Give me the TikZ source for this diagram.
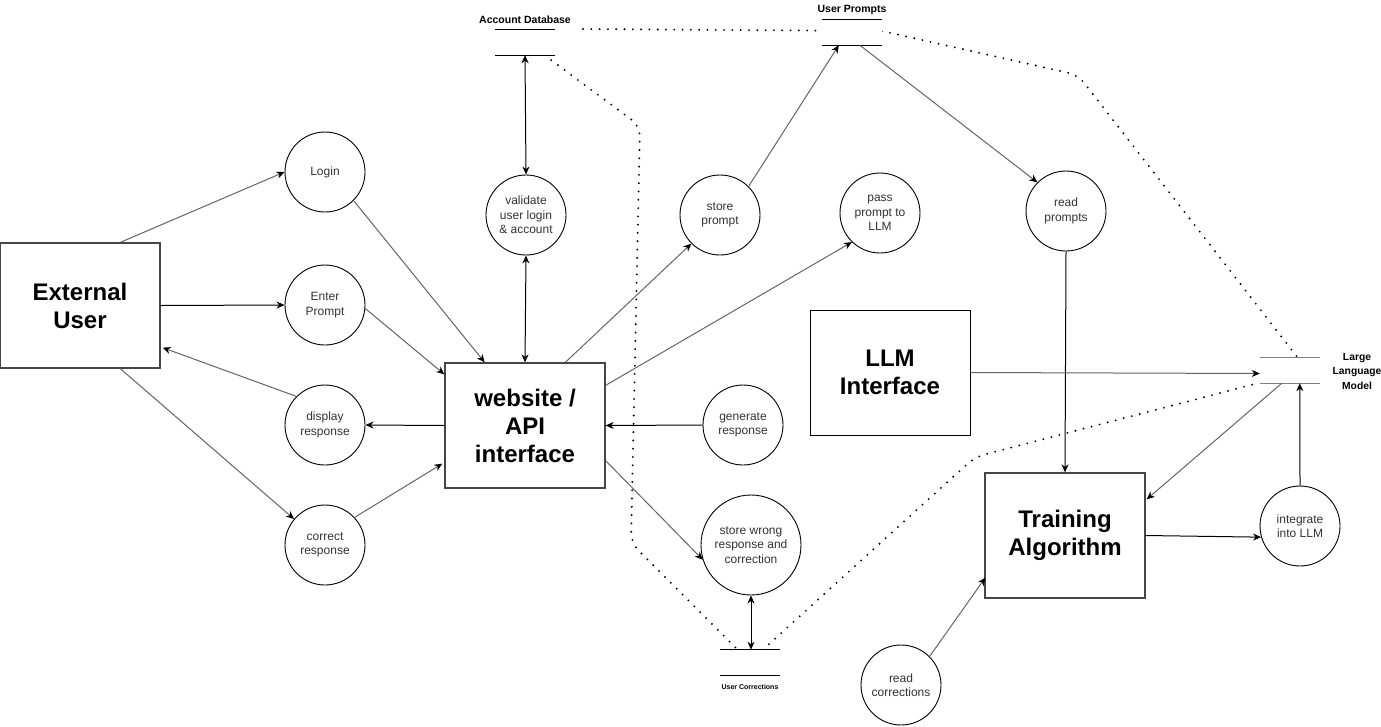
\documentclass[tikz,border=0pt]{standalone}
\usepackage{fontspec}
\setmainfont{Liberation Sans}
\usetikzlibrary{arrows.meta,calc,backgrounds}
\definecolor{lineg}{RGB}{100,100,100}
\definecolor{boxg}{RGB}{70,70,70}
\definecolor{txtg}{RGB}{51,51,51}
\definecolor{llmg}{RGB}{128,128,128}
\begin{document}
\begin{tikzpicture}[x=1pt,y=-1pt,
 proc/.style={circle,draw=black,line width=0.9pt,fill=white,minimum size=80pt,inner sep=0pt,align=center,font=\fontsize{12}{14.5}\selectfont,text=txtg},
 ent/.style={rectangle,draw=boxg,line width=1.3pt,fill=white,minimum width=160pt,minimum height=125pt,inner sep=0pt,align=center,font=\fontsize{24}{28}\selectfont\bfseries},
 storebox/.style={rectangle,draw=none,fill=white,minimum width=60pt,minimum height=25pt,inner sep=0pt},
 storeline/.style={line width=1.2pt},
 slabel/.style={inner sep=0pt,align=center,font=\fontsize{10.5}{13}\selectfont\bfseries},
 tipk/.tip={Stealth[length=8pt,width=7pt,inset=2.5pt,color=black]},
 flowg/.style={line width=1pt,draw=lineg,-tipk},
 flowk/.style={line width=1pt,draw=black,-tipk},
 flowkk/.style={line width=1pt,draw=black,tipk-tipk},
 dots/.style={line width=2.1pt,dash pattern=on 0pt off 8.3pt,line cap=round,rounded corners=10pt}
]
\useasboundingbox (0,0) rectangle (1381,726);

% entities
\node[ent] (eu) at (80,305.5) {External\\User};
\node[ent] (web) at (525,425.5) {website /\\API\\interface};
\node[ent,draw=black,line width=1pt] (llmi) at (890,372.5) {LLM\\Interface};
\node[ent] (train) at (1065,535.5) {Training\\Algorithm};

% processes
\node[proc] (login) at (325,172) {Login};
\node[proc] (enter) at (325,305) {Enter\\Prompt};
\node[proc] (display) at (325,425) {display\\response};
\node[proc] (correct) at (325,545) {correct\\response};
\node[proc] (validate) at (526,215) {validate\\user login\\\& account};
\node[proc] (sprompt) at (720,215) {store\\prompt};
\node[proc] (pass) at (880,213) {pass\\prompt to\\LLM};
\node[proc] (readp) at (1066,211) {read\\prompts};
\node[proc] (gen) at (743,425) {generate\\response};
\node[proc,minimum size=100pt] (swrong) at (751,545) {store wrong\\response and\\correction};
\node[proc] (integ) at (1300,526) {integrate\\into LLM};
\node[proc] (readc) at (901,685) {read\\corrections};

% data stores
\node[storebox] (acct) at (525,42.5) {};
\draw[storeline] (acct.north west) -- (acct.north east) (acct.south west) -- (acct.south east);
\node[slabel] (acctl) at (525,20) {Account Database};
\node[storebox] (up) at (852,32.5) {};
\draw[storeline] (up.north west) -- (up.north east) (up.south west) -- (up.south east);
\node[slabel] (upl) at (852,10) {User Prompts};
\node[storebox] (uc) at (750,662.5) {};
\draw[storeline] (uc.north west) -- (uc.north east) (uc.south west) -- (uc.south east);
\node[slabel,font=\fontsize{7}{8}\selectfont\bfseries] (ucl) at (750,687) {User Corrections};
\node[storebox] (llm) at (1290,370.5) {};
\draw[storeline,draw=llmg] (llm.north west) -- (llm.north east) (llm.south west) -- (llm.south east);
\node[slabel,font=\fontsize{10.3}{14.5}\selectfont\bfseries] (llml) at (1357,371) {Large\\Language\\Model};

% dotted associations
\begin{scope}[on background layer]
\coordinate (adA) at (583,29);
\draw[dots] (adA) -- (882,31) -- (1078,75) -- ($(llm.north west)+(38,0)$);
\draw[dots] ($(acct.south east)+(-4,5)$) -- (640,126) -- (631,543) -- ($(uc.north west)+(18,0)$);
\draw[dots] ($(uc.north west)+(43,0)$) -- (975,457) -- ($(llm.south west)+(-2,0)$);
\end{scope}

% flows
\draw[flowg] ($(eu.north west)!0.75!(eu.north east)$) -- (login.west);
\draw[flowg] (login.-45) -- ($(web.north west)!0.25!(web.north east)$);
\draw[flowk] (eu.east) -- (enter.west);
\draw[flowg] (enter.-5) -- ($(web.north west)+(0,12)$);
\draw[flowg] (display.135) -- ($(eu.south east)+(2,-21)$);
\draw[flowk] (web.west) -- (display.east);
\draw[flowg] ($(eu.south west)!0.75!(eu.south east)$) -- (correct.140);
\draw[flowg] (correct.43) -- ($(web.south west)+(-2,-25)$);
\draw[flowkk] (web.north) -- (validate.south);
\draw[flowkk] (validate.north) -- (acct.south);
\draw[flowg] ($(web.north west)!0.75!(web.north east)$) -- (sprompt.225);
\draw[flowg] (sprompt.45) -- ($(up.south west)+(17,0)$);
\draw[flowg] ($(web.north east)+(0,23)$) -- (pass.226);
\draw[flowg] ($(up.south west)+(38,0)$) -- (readp.135);
\draw[flowk] (readp.south) -- (train.north);
\draw[flowk] (gen.west) -- (web.east);
\draw[flowg] ($(web.south east)+(0,-28)$) -- (swrong.197);
\draw[flowkk] (swrong.south) -- (swrong.south |- uc.north);
\draw[flowg] (llmi.east) -- ($(llm.west)+(0,3)$);
\draw[flowg] ($(llm.south west)+(22,0)$) -- ($(train.north east)+(1,27)$);
\draw[flowk] (train.east) -- (integ.196);
\draw[flowk] (integ.north) -- ($(llm.south west)+(40,0)$);
\draw[flowg] (readc.45) -- ($(train.south west)+(1,-21)$);
\end{tikzpicture}
\end{document}
